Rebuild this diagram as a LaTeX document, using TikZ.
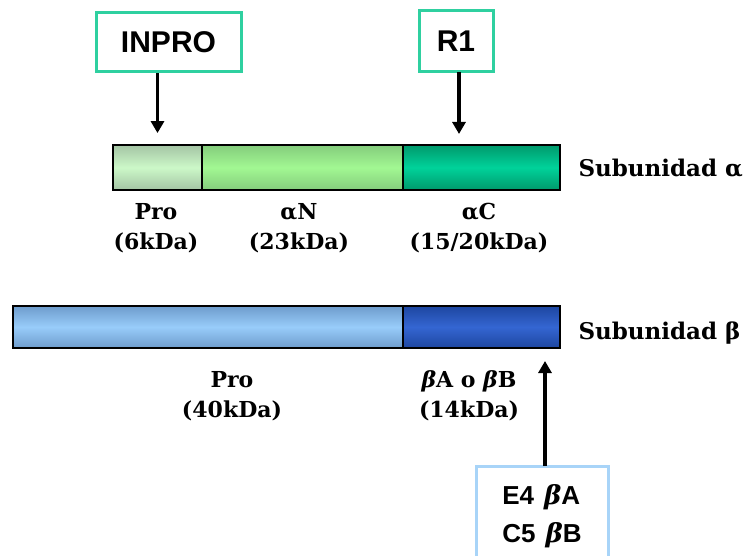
\documentclass[tikz,border=0pt]{standalone}
\usepackage{fontspec}
\setmainfont{DejaVu Serif}
\setsansfont{Liberation Sans}
\usetikzlibrary{positioning,arrows.meta}

\definecolor{boxgreen}{HTML}{2FD0A0}
\definecolor{boxblue}{HTML}{A8D4F8}
\definecolor{proedge}{HTML}{A4C4A4}
\definecolor{promid}{HTML}{CCF8C8}
\definecolor{nedge}{HTML}{84CC7C}
\definecolor{nmid}{HTML}{A2F892}
\definecolor{cedge}{HTML}{00996C}
\definecolor{cmid}{HTML}{00D29A}
\definecolor{bproedge}{HTML}{6E9CCC}
\definecolor{bpromid}{HTML}{98CCFA}
\definecolor{baedge}{HTML}{1E46A0}
\definecolor{bamid}{HTML}{3466D2}

\tikzset{
  seg/.style={draw, line width=1.8pt, inner sep=0pt, minimum height=45pt},
  tag/.style={draw=boxgreen, line width=3pt, fill=white, inner sep=0pt,
    font=\sffamily\bfseries\fontsize{30}{32}\selectfont},
  lab/.style={align=center, font=\bfseries\fontsize{22}{30}\selectfont},
  sub/.style={anchor=west, font=\bfseries\fontsize{23}{24}\selectfont},
  arr/.style={line width=3.5pt, -{Triangle[length=12pt,width=13pt]}}
}

\begin{document}
\begin{tikzpicture}[x=1pt,y=-1pt]
\useasboundingbox (0,0) rectangle (749,556);

% subunidad alfa
\node[seg, top color=proedge, bottom color=proedge, middle color=promid,
  minimum width=89pt] (apro) at (157.5,167.5) {};
\node[seg, top color=nedge, bottom color=nedge, middle color=nmid,
  minimum width=201pt] (an) at (302.5,167.5) {};
\node[seg, top color=cedge, bottom color=cedge, middle color=cmid,
  minimum width=157pt] (ac) at (481.5,167.5) {};

% subunidad beta
\node[seg, top color=bproedge, bottom color=bproedge, middle color=bpromid,
  minimum width=390pt, minimum height=42pt] (bpro) at (208,327) {};
\node[seg, top color=baedge, bottom color=baedge, middle color=bamid,
  minimum width=157pt, minimum height=42pt] (ba) at (481.5,327) {};

\node[sub] (suba) at (575,168) {Subunidad α};
\node[sub] (subb) at (575,333) {Subunidad β};

% etiquetas
\node[lab] (lpro) at (156,228) {Pro\\(6kDa)};
\node[lab] (lan) at (299,228) {αN\\(23kDa)};
\node[lab] (lac) at (479,228) {αC\\(15/20kDa)};
\node[lab] (lbpro) at (232,396) {Pro\\(40kDa)};
\node[lab] (lba) at (469,396) {{\itshape β}A o {\itshape β}B\\(14kDa)};

% cajas
\node[tag, minimum width=145pt, minimum height=59pt] (inpro) at (168.5,42.5) {INPRO};
\node[tag, minimum width=74pt, minimum height=61pt] (r1) at (456,41.5) {R1};
\node[tag, draw=boxblue, align=left, minimum width=132pt, minimum height=100pt,
  font=\sffamily\bfseries\fontsize{26}{38}\selectfont] (e4) at (542,516)
  {E4\hspace{10pt}{\rmfamily\itshape β}A\\C5\hspace{10pt}{\rmfamily\itshape β}B};

\draw[arr, shorten >=11pt] (apro.north |- inpro.south) -- (apro.north);
\draw[arr, shorten >=11pt] (459,72) -- (459,145);
\draw[arr, shorten >=13pt] (545,466) -- (545,348);

\end{tikzpicture}
\end{document}
